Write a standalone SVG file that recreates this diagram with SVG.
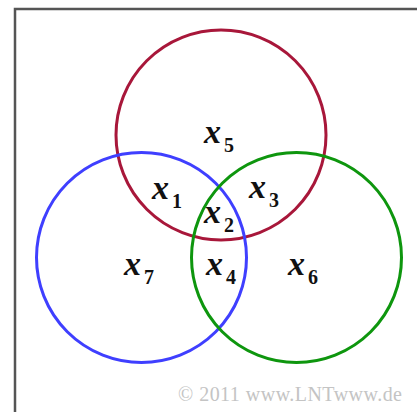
<svg xmlns="http://www.w3.org/2000/svg" width="417" height="412" viewBox="0 0 417 412">
<style>
.c{fill:none;stroke-width:3}
.v{font-family:"Liberation Serif","Times New Roman",serif;font-style:italic;font-weight:bold;font-size:34px;fill:#111}
.s{font-family:"Liberation Serif","Times New Roman",serif;font-weight:bold;font-size:20px;fill:#111}
.cp{font-family:"Liberation Serif","Times New Roman",serif;font-size:20px;fill:#c4c4c4}
</style>
<rect x="0" y="0" width="417" height="412" fill="#fff"/>
<path d="M15 412 V9 H417" fill="none" stroke="#555" stroke-width="2.5"/>
<g id="circles">
<circle id="red" class="c" cx="221" cy="135" r="105" stroke="#A8173A"/>
<circle id="blue" class="c" cx="141.5" cy="257.5" r="105" stroke="#3F3FFF"/>
<circle id="green" class="c" cx="296.5" cy="257.5" r="105" stroke="#0E960E"/>
</g>
<g id="labels">
<g id="x5"><text class="v" x="204" y="143">x</text><text class="s" x="224" y="152">5</text></g>
<g id="x1"><text class="v" x="152" y="199">x</text><text class="s" x="172" y="208">1</text></g>
<g id="x3"><text class="v" x="249" y="198">x</text><text class="s" x="269" y="207">3</text></g>
<g id="x2"><text class="v" x="204" y="223">x</text><text class="s" x="224" y="232">2</text></g>
<g id="x7"><text class="v" x="124" y="275">x</text><text class="s" x="144" y="284">7</text></g>
<g id="x4"><text class="v" x="206" y="275">x</text><text class="s" x="226" y="284">4</text></g>
<g id="x6"><text class="v" x="288" y="275">x</text><text class="s" x="308" y="284">6</text></g>
</g>
<text class="cp" x="178" y="401" textLength="224">© 2011 www.LNTwww.de</text>
</svg>
